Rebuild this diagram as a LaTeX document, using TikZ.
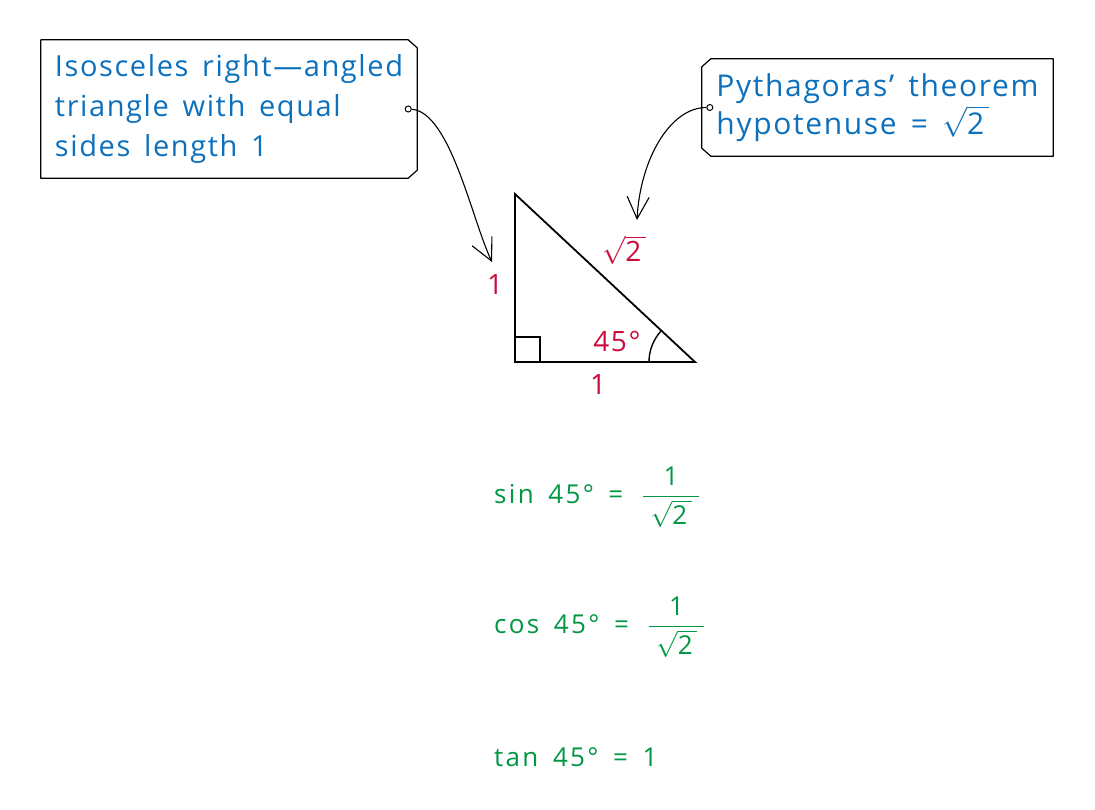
\RequirePackage{fix-cm}
\documentclass[tikz,border=0pt]{standalone}
\usepackage{amsmath}
\usepackage{fontspec}
\setmainfont{Open Sans}[LetterSpace=5.5, WordSpace=1.5]
\newfontfamily\eqfont{Open Sans}[LetterSpace=9, WordSpace=1.6]
\usetikzlibrary{arrows.meta, positioning}
\definecolor{noteblue}{RGB}{12,112,188}
\definecolor{sidered}{RGB}{204,12,60}
\definecolor{triggreen}{RGB}{0,150,68}

\begin{document}
\begin{tikzpicture}[
	x=1pt, y=-1pt,
	notetext/.style = {text=noteblue, font=\fontsize{29}{40}\selectfont, align=left},
	notebox/.style = {notetext, rectangle, inner sep=0pt},
	boxline/.style = {draw=black, line width=1.2pt, line join=round},
	pindot/.style = {circle, draw=black, fill=white, line width=1pt, inner sep=0pt, minimum size=6pt},
	pointer/.style = {draw=black, line width=1.1pt, -{Straight Barb[length=22pt, width=22pt]}},
	sidelabel/.style = {text=sidered, font=\fontsize{28}{32}\selectfont},
	trisides/.style = {draw=black, line width=1.8pt},
	trigtext/.style = {text=triggreen, font=\eqfont\fontsize{26}{30}\selectfont, anchor=west, inner sep=0pt}
]
	\useasboundingbox (0,0) rectangle (1095,809);

	\node[notebox, minimum width=376pt, minimum height=138pt] (isobox) at (229,109) {Isosceles right—angled\\triangle with equal\\sides length 1};
	\node[notebox, font=\fontsize{30}{38}\selectfont, minimum width=351pt, minimum height=97pt] (pythbox) at (877.5,107.5) {Pythagoras’ theorem\\hypotenuse = $\sqrt{\text{2}\,}$};
	\draw[boxline] (isobox.north west) -- ([xshift=-9pt]isobox.north east) -- ([yshift=-8pt]isobox.north east)
		-- ([yshift=8pt]isobox.south east) -- ([xshift=-9pt]isobox.south east) -- (isobox.south west) -- cycle;
	\draw[boxline] (pythbox.north east) -- ([xshift=9pt]pythbox.north west) -- ([yshift=-8pt]pythbox.north west)
		-- ([yshift=8pt]pythbox.south west) -- ([xshift=9pt]pythbox.south west) -- (pythbox.south east) -- cycle;
	\node[pindot] (isopin) at ([xshift=-9pt]isobox.east) {};
	\node[pindot] (pythpin) at ([xshift=8pt]pythbox.west) {};

	\coordinate (A) at (515,194);
	\coordinate (B) at (515,362);
	\coordinate (C) at (695,362);
	\draw[trisides] (A) -- (B) -- (C) -- cycle;
	\draw[line width=1.4pt] (B) ++(0,-25) -- ++(25,0) -- ++(0,25);
	\draw[line width=1.4pt] (C) ++(-46,0) arc[start angle=180, end angle=223, radius=46];

	\node[sidelabel] (sideup) at (495,284) {1};
	\node[sidelabel] (sidebase) at (598,384) {1};
	\node[sidelabel] (sidehyp) at (624,250) {$\sqrt{\text{2}\,}$};
	\node[sidelabel] (anglelabel) at (617,341) {45°};

	\coordinate (isotip) at (492,262);
	\coordinate (pythtip) at (637,220);
	\draw[pointer] (isopin) .. controls +(42,3) and +(-20,-42) .. (isotip);
	\draw[pointer] (pythpin) .. controls +(-40,0) and +(3,-60) .. (pythtip);

	\node[trigtext] (sineq) at (494,497) {sin 45° = \,$\dfrac{\text{1}}{\;\sqrt{\text{2}\,}\;}$};
	\node[trigtext] (coseq) at (494,627) {cos 45° = \,$\dfrac{\text{1}}{\;\sqrt{\text{2}\,}\;}$};
	\node[trigtext] (taneq) at (494,757) {tan 45° = 1};
\end{tikzpicture}
\end{document}
